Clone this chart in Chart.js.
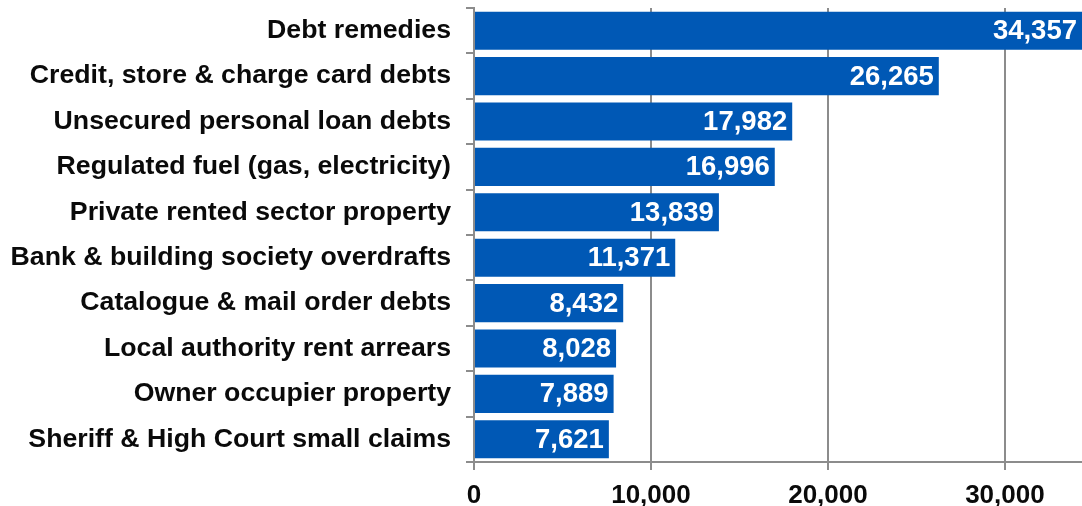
<!DOCTYPE html>
<html>
<head>
<meta charset="utf-8">
<script src="https://cdn.jsdelivr.net/npm/chart.js@4/dist/chart.umd.min.js"></script>
<style>
  html, body { margin: 0; padding: 0; background: #fff; }
  #wrap { width: 1082px; height: 506px; }
</style>
</head>
<body>
<div id="wrap"><canvas id="chart"></canvas></div>
<script>
const categories = [
  'Debt remedies',
  'Credit, store & charge card debts',
  'Unsecured personal loan debts',
  'Regulated fuel (gas, electricity)',
  'Private rented sector property',
  'Bank & building society overdrafts',
  'Catalogue & mail order debts',
  'Local authority rent arrears',
  'Owner occupier property',
  'Sheriff & High Court small claims'
];
const cases = [34357, 26265, 17982, 16996, 13839, 11371, 8432, 8028, 7889, 7621];
const xTicks = [0, 10000, 20000, 30000];

const BLUE = '#0058b5';
const GREY = '#8c8c8c';
const INK = '#0a0a0a';
const FONT = 'Liberation Sans, Arial, sans-serif';

const fmt = (v) => v.toLocaleString('en-GB');

// white totals at the end of each bar
const barValues = {
  id: 'barValues',
  afterDatasetsDraw(chart) {
    const ctx = chart.ctx;
    const meta = chart.getDatasetMeta(0);
    ctx.save();
    ctx.font = 'bold 27.5px ' + FONT;
    ctx.fillStyle = '#fff';
    ctx.textAlign = 'right';
    ctx.textBaseline = 'middle';
    meta.data.forEach((bar, i) => {
      ctx.fillText(fmt(cases[i]), bar.x - 5, bar.y + 1);
    });
    ctx.restore();
  }
};

new Chart(document.getElementById('chart'), {
  type: 'bar',
  data: {
    labels: categories,
    datasets: [{
      data: cases,
      backgroundColor: BLUE,
      borderWidth: 0,
      categoryPercentage: 1,
      barPercentage: 0.84
    }]
  },
  plugins: [barValues],
  options: {
    indexAxis: 'y',
    responsive: true,
    maintainAspectRatio: false,
    animation: false,
    layout: { padding: { top: 8, right: 0, left: 0, bottom: 0 } },
    plugins: {
      legend: { display: false },
      tooltip: { enabled: false }
    },
    scales: {
      x: {
        min: 0,
        max: 34357,
        afterFit(scale) {
          scale.height = 44;
          scale.paddingLeft = 0;
          scale.paddingRight = 0;
        },
        afterBuildTicks(scale) { scale.ticks = xTicks.map(v => ({ value: v })); },
        border: { display: true, color: GREY, width: 2 },
        grid: { color: GREY, lineWidth: 2, tickLength: 8, drawOnChartArea: true },
        ticks: {
          color: INK,
          padding: 10,
          maxRotation: 0,
          font: { family: FONT, size: 26, weight: 'bold' },
          callback: (v) => fmt(v)
        }
      },
      y: {
        afterFit(scale) {
          scale.width = 474;
          scale.paddingTop = 0;
          scale.paddingBottom = 0;
        },
        border: { display: true, color: GREY, width: 2 },
        grid: { color: GREY, lineWidth: 2, tickLength: 8, drawOnChartArea: false },
        ticks: {
          color: INK,
          padding: 15,
          autoSkip: false,
          font: { family: FONT, size: 26.7, weight: 'bold' }
        }
      }
    }
  }
});
</script>
</body>
</html>
